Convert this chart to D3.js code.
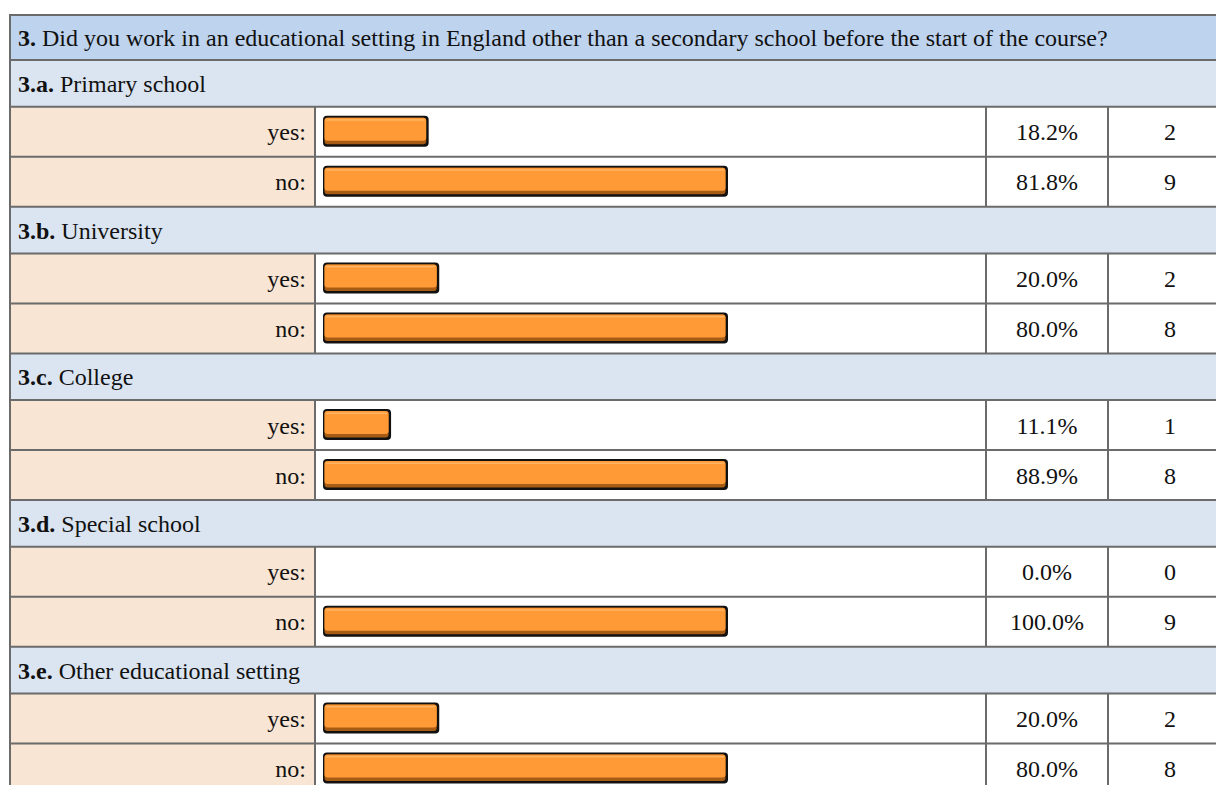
<!DOCTYPE html>
<html>
<head>
<meta charset="utf-8">
<script src="https://cdn.jsdelivr.net/npm/d3@7"></script>
<style>
  html, body { margin: 0; padding: 0; background: #fff; overflow: hidden; }
  svg { display: block; }
</style>
</head>
<body>
<div id="table"></div>
<script>
// question + sub items
const questionNo = "3.";
const questionText = " Did you work in an educational setting in England other than a secondary school before the start of the course?";
const groupCodes = ["3.a.", "3.b.", "3.c.", "3.d.", "3.e."];
const groupNames = ["Primary school", "University", "College", "Special school", "Other educational setting"];
const answerLabels = ["yes:", "no:"];
const yesPct = [18.2, 20.0, 11.1, 0.0, 20.0];
const noPct = [81.8, 80.0, 88.9, 100.0, 80.0];
const yesCount = [2, 2, 1, 0, 2];
const noCount = [9, 8, 8, 9, 8];

const svgWidth = 1216;
const svgHeight = 785;
const tableLeft = 10, tableTop = 15;
const colX = [tableLeft, 315, 986, 1108, 1232]; // column edges
const headerH = 45, subH = 46.7, rowH = 50;
const lineColor = "#6b6b6b";

const svg = d3.select("#table").append("svg")
  .attr("width", svgWidth)
  .attr("height", svgHeight)
  .style("font-family", "'Liberation Serif', 'Times New Roman', serif")
  .style("font-size", "24px");

// build rows
let rows = [];
let y = tableTop;
rows.push({ type: "header", y: y, h: headerH });
y += headerH;
groupCodes.forEach((code, i) => {
  rows.push({ type: "sub", y: y, h: subH, code: code, name: groupNames[i] });
  y += subH;
  const pcts = [yesPct[i], noPct[i]];
  const counts = [yesCount[i], noCount[i]];
  const maxPct = d3.max(pcts);
  const x = d3.scaleLinear().domain([0, maxPct]).range([20, 405]);
  answerLabels.forEach((lab, j) => {
    rows.push({ type: "data", y: y, h: rowH, label: lab, pct: pcts[j], count: counts[j], x: x });
    y += rowH;
  });
});

const g = svg.append("g");

// backgrounds
rows.forEach(r => {
  if (r.type === "header") {
    g.append("rect").attr("x", colX[0]).attr("y", r.y).attr("width", colX[4] - colX[0]).attr("height", r.h).attr("fill", "#bed3ee");
  } else if (r.type === "sub") {
    g.append("rect").attr("x", colX[0]).attr("y", r.y).attr("width", colX[4] - colX[0]).attr("height", r.h).attr("fill", "#dbe5f1");
  } else {
    g.append("rect").attr("x", colX[0]).attr("y", r.y).attr("width", colX[1] - colX[0]).attr("height", r.h).attr("fill", "#f8e5d3");
    g.append("rect").attr("x", colX[1]).attr("y", r.y).attr("width", colX[4] - colX[1]).attr("height", r.h).attr("fill", "#ffffff");
  }
});

// bars
rows.filter(r => r.type === "data" && r.pct > 0).forEach(r => {
  const bx = colX[1] + 8, by = r.y + 9, bw = r.x(r.pct), bh = 31;
  const bar = g.append("g");
  bar.append("rect").attr("x", bx).attr("y", by).attr("width", bw).attr("height", bh)
    .attr("rx", 4).attr("fill", "#111");
  bar.append("rect").attr("x", bx + 1.5).attr("y", by + 2).attr("width", bw - 4).attr("height", bh - 4.5)
    .attr("rx", 3).attr("fill", "#a65c14");
  bar.append("rect").attr("x", bx + 1.5).attr("y", by + 2).attr("width", bw - 4).attr("height", bh - 8)
    .attr("rx", 3).attr("fill", "#ff9a36");
  bar.append("rect").attr("x", bx + 3).attr("y", by + 3.5).attr("width", bw - 7).attr("height", 1.5)
    .attr("fill", "#ffb464");
});

// grid lines
const lines = g.append("g").attr("stroke", lineColor).attr("stroke-width", 2);
rows.forEach(r => {
  lines.append("line").attr("x1", colX[0] - 1).attr("x2", colX[4]).attr("y1", r.y).attr("y2", r.y);
  if (r.type === "data") {
    [colX[1], colX[2], colX[3]].forEach(cx => {
      lines.append("line").attr("x1", cx).attr("x2", cx).attr("y1", r.y).attr("y2", r.y + r.h);
    });
  }
});
lines.append("line").attr("x1", colX[0]).attr("x2", colX[0]).attr("y1", tableTop - 1).attr("y2", y);
lines.append("line").attr("x1", colX[4]).attr("x2", colX[4]).attr("y1", tableTop - 1).attr("y2", y);

// texts
rows.forEach(r => {
  const ty = r.y + r.h / 2 + 8.5;
  if (r.type === "header") {
    const t = g.append("text").attr("x", colX[0] + 8).attr("y", ty).attr("fill", "#111");
    t.append("tspan").attr("font-weight", "bold").text(questionNo);
    t.append("tspan").text(questionText);
  } else if (r.type === "sub") {
    const t = g.append("text").attr("x", colX[0] + 8).attr("y", ty).attr("fill", "#111");
    t.append("tspan").attr("font-weight", "bold").text(r.code);
    t.append("tspan").text(" " + r.name);
  } else {
    g.append("text").attr("x", colX[1] - 9).attr("y", ty).attr("text-anchor", "end").attr("fill", "#111").text(r.label);
    g.append("text").attr("x", (colX[2] + colX[3]) / 2).attr("y", ty).attr("text-anchor", "middle").attr("fill", "#111").text(d3.format(".1f")(r.pct) + "%");
    g.append("text").attr("x", (colX[3] + colX[4]) / 2).attr("y", ty).attr("text-anchor", "middle").attr("fill", "#111").text(r.count);
  }
});
</script>
</body>
</html>
